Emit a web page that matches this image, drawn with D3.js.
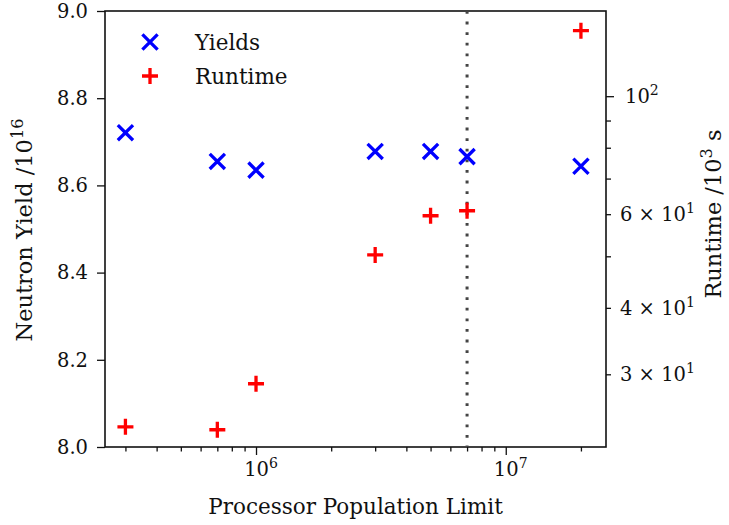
<!DOCTYPE html>
<html>
<head>
<meta charset="utf-8">
<script src="https://cdn.jsdelivr.net/npm/d3@7"></script>
<style>
  html, body { margin: 0; padding: 0; background: #fff; }
  svg text { font-family: "DejaVu Serif", serif; fill: #111; white-space: pre; }
</style>
</head>
<body>
<svg id="chart" width="729" height="525"></svg>
<script>
// Processor population limits tested
const populationLimits = [3e5, 7e5, 1e6, 3e6, 5e6, 7e6, 2e7];
// Neutron yield, in units of 1e16
const yields = [8.721, 8.655, 8.635, 8.678, 8.678, 8.666, 8.644];
// Runtime, in units of 1e3 s
const runtimes = [23.9, 23.6, 28.8, 50.3, 59.6, 60.9, 132.8];
// Chosen limit marked with a dotted line
const chosenLimit = 7e6;

const yieldTicks = [8.0, 8.2, 8.4, 8.6, 8.8, 9.0];
const xMajorTicks = [1e6, 1e7];
const xMinorTicks = [3e5, 4e5, 5e5, 6e5, 7e5, 8e5, 9e5, 2e6, 3e6, 4e6, 5e6, 6e6, 7e6, 8e6, 9e6, 2e7];
const runtimeMajorTicks = [100];
const runtimeMinorTicks = [30, 40, 50, 60, 70, 80, 90];
const runtimeLabelled = [[30, "3", "1"], [40, "4", "1"], [60, "6", "1"]];

const svg = d3.select("#chart");
const plot = { left: 105, right: 606, top: 11, bottom: 447 };

const x = d3.scaleLog().domain([2.485e5, 2.52e7]).range([plot.left, plot.right]);
const yL = d3.scaleLinear().domain([8.0, 9.0]).range([plot.bottom, plot.top]);
const yR = d3.scaleLog().domain([21.9, 144.6]).range([plot.bottom, plot.top]);

const FS = 19.5;      // tick labels
const FT = 21.5;      // x title and legend
const FY = 22.5;      // y titles
const ink = "#111";

// ---- axes ----
const axisStyle = g => {
  g.select(".domain").remove();
  g.selectAll(".tick line").attr("stroke", ink).attr("stroke-width", 1.3);
  g.selectAll(".tick text").remove();
};

// x axis: major and minor ticks
svg.append("g").attr("transform", `translate(0,${plot.bottom})`)
  .call(d3.axisBottom(x).tickValues(xMajorTicks).tickSize(8).tickFormat(""))
  .call(axisStyle);
svg.append("g").attr("transform", `translate(0,${plot.bottom})`)
  .call(d3.axisBottom(x).tickValues(xMinorTicks).tickSize(4.5).tickFormat(""))
  .call(axisStyle);

// left axis
svg.append("g").attr("transform", `translate(${plot.left},0)`)
  .call(d3.axisLeft(yL).tickValues(yieldTicks).tickSize(8).tickFormat(""))
  .call(axisStyle);

// right axis
svg.append("g").attr("transform", `translate(${plot.right},0)`)
  .call(d3.axisRight(yR).tickValues(runtimeMajorTicks).tickSize(8).tickFormat(""))
  .call(axisStyle);
svg.append("g").attr("transform", `translate(${plot.right},0)`)
  .call(d3.axisRight(yR).tickValues(runtimeMinorTicks).tickSize(5).tickFormat(""))
  .call(axisStyle);

// frame
svg.append("rect")
  .attr("x", plot.left).attr("y", plot.top)
  .attr("width", plot.right - plot.left).attr("height", plot.bottom - plot.top)
  .attr("fill", "none").attr("stroke", ink).attr("stroke-width", 1.6);

// left tick labels
svg.append("g").selectAll("text").data(yieldTicks).join("text")
  .attr("x", plot.left - 17).attr("y", d => yL(d))
  .attr("dy", "0.35em").attr("text-anchor", "end")
  .attr("font-size", FS).text(d => d.toFixed(1));

// power-of-ten label helper
function powerLabel(sel, mant, exp) {
  if (mant) sel.append("tspan").text(mant + " \u00d7 ");
  sel.append("tspan").text("10");
  sel.append("tspan").attr("dy", -8).attr("font-size", FS * 0.72).text(exp);
}

// x tick labels
xMajorTicks.forEach(v => {
  const t = svg.append("text").attr("x", x(v) + 5).attr("y", plot.bottom + 29)
    .attr("text-anchor", "middle").attr("font-size", FS);
  powerLabel(t, null, String(Math.round(Math.log10(v))));
});

// right tick labels
runtimeMajorTicks.forEach(v => {
  const t = svg.append("text").attr("x", plot.right + 19).attr("y", yR(v))
    .attr("dy", "0.35em").attr("font-size", FS);
  powerLabel(t, null, String(Math.round(Math.log10(v))));
});
runtimeLabelled.forEach(([v, m, e]) => {
  const t = svg.append("text").attr("x", plot.right + 14).attr("y", yR(v))
    .attr("dy", "0.35em").attr("font-size", FS);
  powerLabel(t, m, e);
});

// axis titles
svg.append("text").attr("x", (plot.left + plot.right) / 2).attr("y", 514)
  .attr("text-anchor", "middle").attr("font-size", FT).text("Processor Population Limit");

const yTitle = svg.append("text")
  .attr("transform", `translate(32,230) rotate(-90)`)
  .attr("text-anchor", "middle").attr("font-size", FY);
yTitle.append("tspan").text("Neutron Yield /10");
yTitle.append("tspan").attr("dy", -9).attr("font-size", FY * 0.72).text("16");

const rTitle = svg.append("text")
  .attr("transform", `translate(721,214) rotate(-90)`)
  .attr("text-anchor", "middle").attr("font-size", FY);
rTitle.append("tspan").text("Runtime /10");
rTitle.append("tspan").attr("dy", -9).attr("font-size", FY * 0.72).text("3");
rTitle.append("tspan").attr("dy", 9).text(" s");

// chosen limit
svg.append("line")
  .attr("x1", x(chosenLimit)).attr("x2", x(chosenLimit))
  .attr("y1", plot.top).attr("y2", plot.bottom)
  .attr("stroke", "#444").attr("stroke-width", 3)
  .attr("stroke-dasharray", "2.8,7.8");

// marker shapes
const crossPath = h => `M${-h},${-h}L${h},${h}M${-h},${h}L${h},${-h}`;
const plusPath = h => `M${-h},0L${h},0M0,${-h}L0,${h}`;

svg.append("g").selectAll("path").data(populationLimits).join("path")
  .attr("transform", (d, i) => `translate(${x(d)},${yL(yields[i])})`)
  .attr("d", crossPath(7.6))
  .attr("stroke", "#0000ff").attr("stroke-width", 3.3).attr("fill", "none");

svg.append("g").selectAll("path").data(populationLimits).join("path")
  .attr("transform", (d, i) => `translate(${x(d)},${yR(runtimes[i])})`)
  .attr("d", plusPath(8))
  .attr("stroke", "#ff0000").attr("stroke-width", 3.3).attr("fill", "none");

// legend
const legend = svg.append("g");
const legendItems = [
  { label: "Yields", path: crossPath(7.6), color: "#0000ff", y: 42 },
  { label: "Runtime", path: plusPath(8), color: "#ff0000", y: 76 }
];
legendItems.forEach(it => {
  legend.append("path").attr("transform", `translate(150,${it.y})`)
    .attr("d", it.path).attr("stroke", it.color).attr("stroke-width", 3.3).attr("fill", "none");
  legend.append("text").attr("x", 195).attr("y", it.y).attr("dy", "0.35em")
    .attr("font-size", FT).text(it.label);
});
</script>
</body>
</html>
